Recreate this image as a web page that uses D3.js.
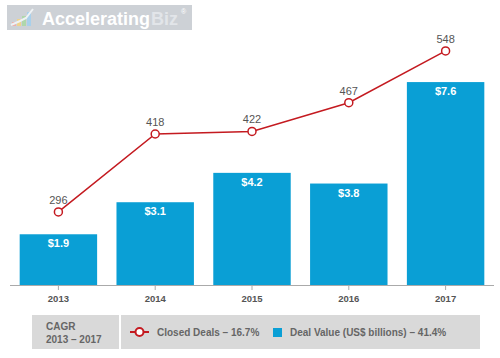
<!DOCTYPE html>
<html><head><meta charset="utf-8">
<script src="https://cdn.jsdelivr.net/npm/d3@7"></script>
<style>body{margin:0;background:#fff;}svg{display:block;font-family:"Liberation Sans",Arial,sans-serif;}</style>
</head><body><svg id="c" width="500" height="358"></svg>
<script>
const years = ["2013","2014","2015","2016","2017"];
const dealValues = [1.9, 3.1, 4.2, 3.8, 7.6];
const closedDeals = [296, 418, 422, 467, 548];
const barLabels = ["$1.9","$3.1","$4.2","$3.8","$7.6"];
const legendItems = ["Closed Deals – 16.7%", "Deal Value (US$ billions) – 41.4%"];

const svg = d3.select("#c");
const baseY = 285;
const x = d3.scaleBand().domain(years).range([10, 494]).paddingInner(0.2).paddingOuter(0.1);
const yBar = d3.scaleLinear().domain([0, 10]).range([baseY, 18]);
const yLine = d3.scaleLinear().domain([200, 600]).range([273.3, 17.7]);

// logo
const logo = svg.append("g");
logo.append("rect").attr("x",7).attr("y",5).attr("width",185).attr("height",25).attr("fill","#cdd1d6");
const ic = [["#f4a6a0",12,22,4,4],["#f7d37a",17,19,4,7],["#a8d8a0",22,16,4,10],["#9fd0f0",27,12,4,14]];
ic.forEach(d=>logo.append("rect").attr("x",d[1]).attr("y",d[2]).attr("width",d[3]).attr("height",d[4]).attr("fill",d[0]).attr("opacity",0.8));
logo.append("path").attr("d","M11 25 L20 21 L26 18 L33 9").attr("stroke","#eef2f5").attr("stroke-width",2).attr("fill","none");
const t1 = logo.append("text").attr("x",42).attr("y",24.5).attr("font-size",18).attr("font-weight","bold").attr("fill","#ffffff").text("Accelerating");
const w1 = t1.node().getComputedTextLength();
logo.append("text").attr("x",42+w1+1).attr("y",24.5).attr("font-size",18).attr("font-weight","bold").attr("fill","#e2e5e9").text("Biz");
logo.append("text").attr("x",181).attr("y",14).attr("font-size",7).attr("fill","#ffffff").text("®");

// bars
svg.append("g").selectAll("rect").data(years).join("rect")
  .attr("x", d=>x(d)).attr("width", x.bandwidth())
  .attr("y", (d,i)=>yBar(dealValues[i])).attr("height",(d,i)=>baseY-yBar(dealValues[i]))
  .attr("fill","#0a9fd5");
svg.append("g").selectAll("text").data(years).join("text")
  .attr("x", d=>x(d)+x.bandwidth()/2).attr("y",(d,i)=>yBar(dealValues[i])+13)
  .attr("text-anchor","middle").attr("font-size",11).attr("font-weight","bold").attr("fill","#fff")
  .text((d,i)=>barLabels[i]);

// axis
const ax = svg.append("g").attr("transform",`translate(0,${baseY})`)
  .call(d3.axisBottom(x).tickSize(5).tickPadding(5).tickSizeOuter(0));
ax.select(".domain").attr("stroke","#aaa").attr("d","M10,0.5H494");
ax.selectAll(".tick line").attr("stroke","#aaa");
ax.selectAll(".tick text").attr("font-size",9.5).attr("font-weight","bold").attr("fill","#555").attr("font-family","Liberation Sans, Arial, sans-serif");

// line
const cx = d=>x(d)+x.bandwidth()/2;
const line = d3.line().x((d,i)=>cx(years[i])).y(d=>yLine(d));
svg.append("path").datum(closedDeals).attr("d",line).attr("fill","none").attr("stroke","#c41a20").attr("stroke-width",1.5);
svg.append("g").selectAll("circle").data(closedDeals).join("circle")
  .attr("cx",(d,i)=>cx(years[i])).attr("cy",d=>yLine(d)).attr("r",4)
  .attr("fill","#fff").attr("stroke","#c41a20").attr("stroke-width",1.5);
svg.append("g").selectAll("text").data(closedDeals).join("text")
  .attr("x",(d,i)=>cx(years[i])).attr("y",d=>yLine(d)-8)
  .attr("text-anchor","middle").attr("font-size",11).attr("fill","#555").text(d=>d);

// footer
const f = svg.append("g");
f.append("rect").attr("x",32).attr("y",315).attr("width",448).attr("height",34).attr("fill","#d9d9d9");
f.append("rect").attr("x",119).attr("y",315).attr("width",2).attr("height",34).attr("fill","#fff");
f.append("text").attr("x",46).attr("y",330).attr("font-size",10).attr("font-weight","bold").attr("fill","#666").text("CAGR");
f.append("text").attr("x",46).attr("y",343).attr("font-size",10).attr("font-weight","bold").attr("fill","#666").text("2013 – 2017");
f.append("line").attr("x1",130).attr("x2",149).attr("y1",332).attr("y2",332).attr("stroke","#c41a20").attr("stroke-width",2);
f.append("circle").attr("cx",139.5).attr("cy",332).attr("r",4).attr("fill","#fff").attr("stroke","#c41a20").attr("stroke-width",2);
f.append("text").attr("x",157).attr("y",336).attr("font-size",10).attr("font-weight","bold").attr("fill","#666").text(legendItems[0]);
f.append("rect").attr("x",273).attr("y",328).attr("width",9).attr("height",9).attr("fill","#0a9fd5");
f.append("text").attr("x",290).attr("y",336).attr("font-size",10).attr("font-weight","bold").attr("fill","#666").text(legendItems[1]);
</script></body></html>
